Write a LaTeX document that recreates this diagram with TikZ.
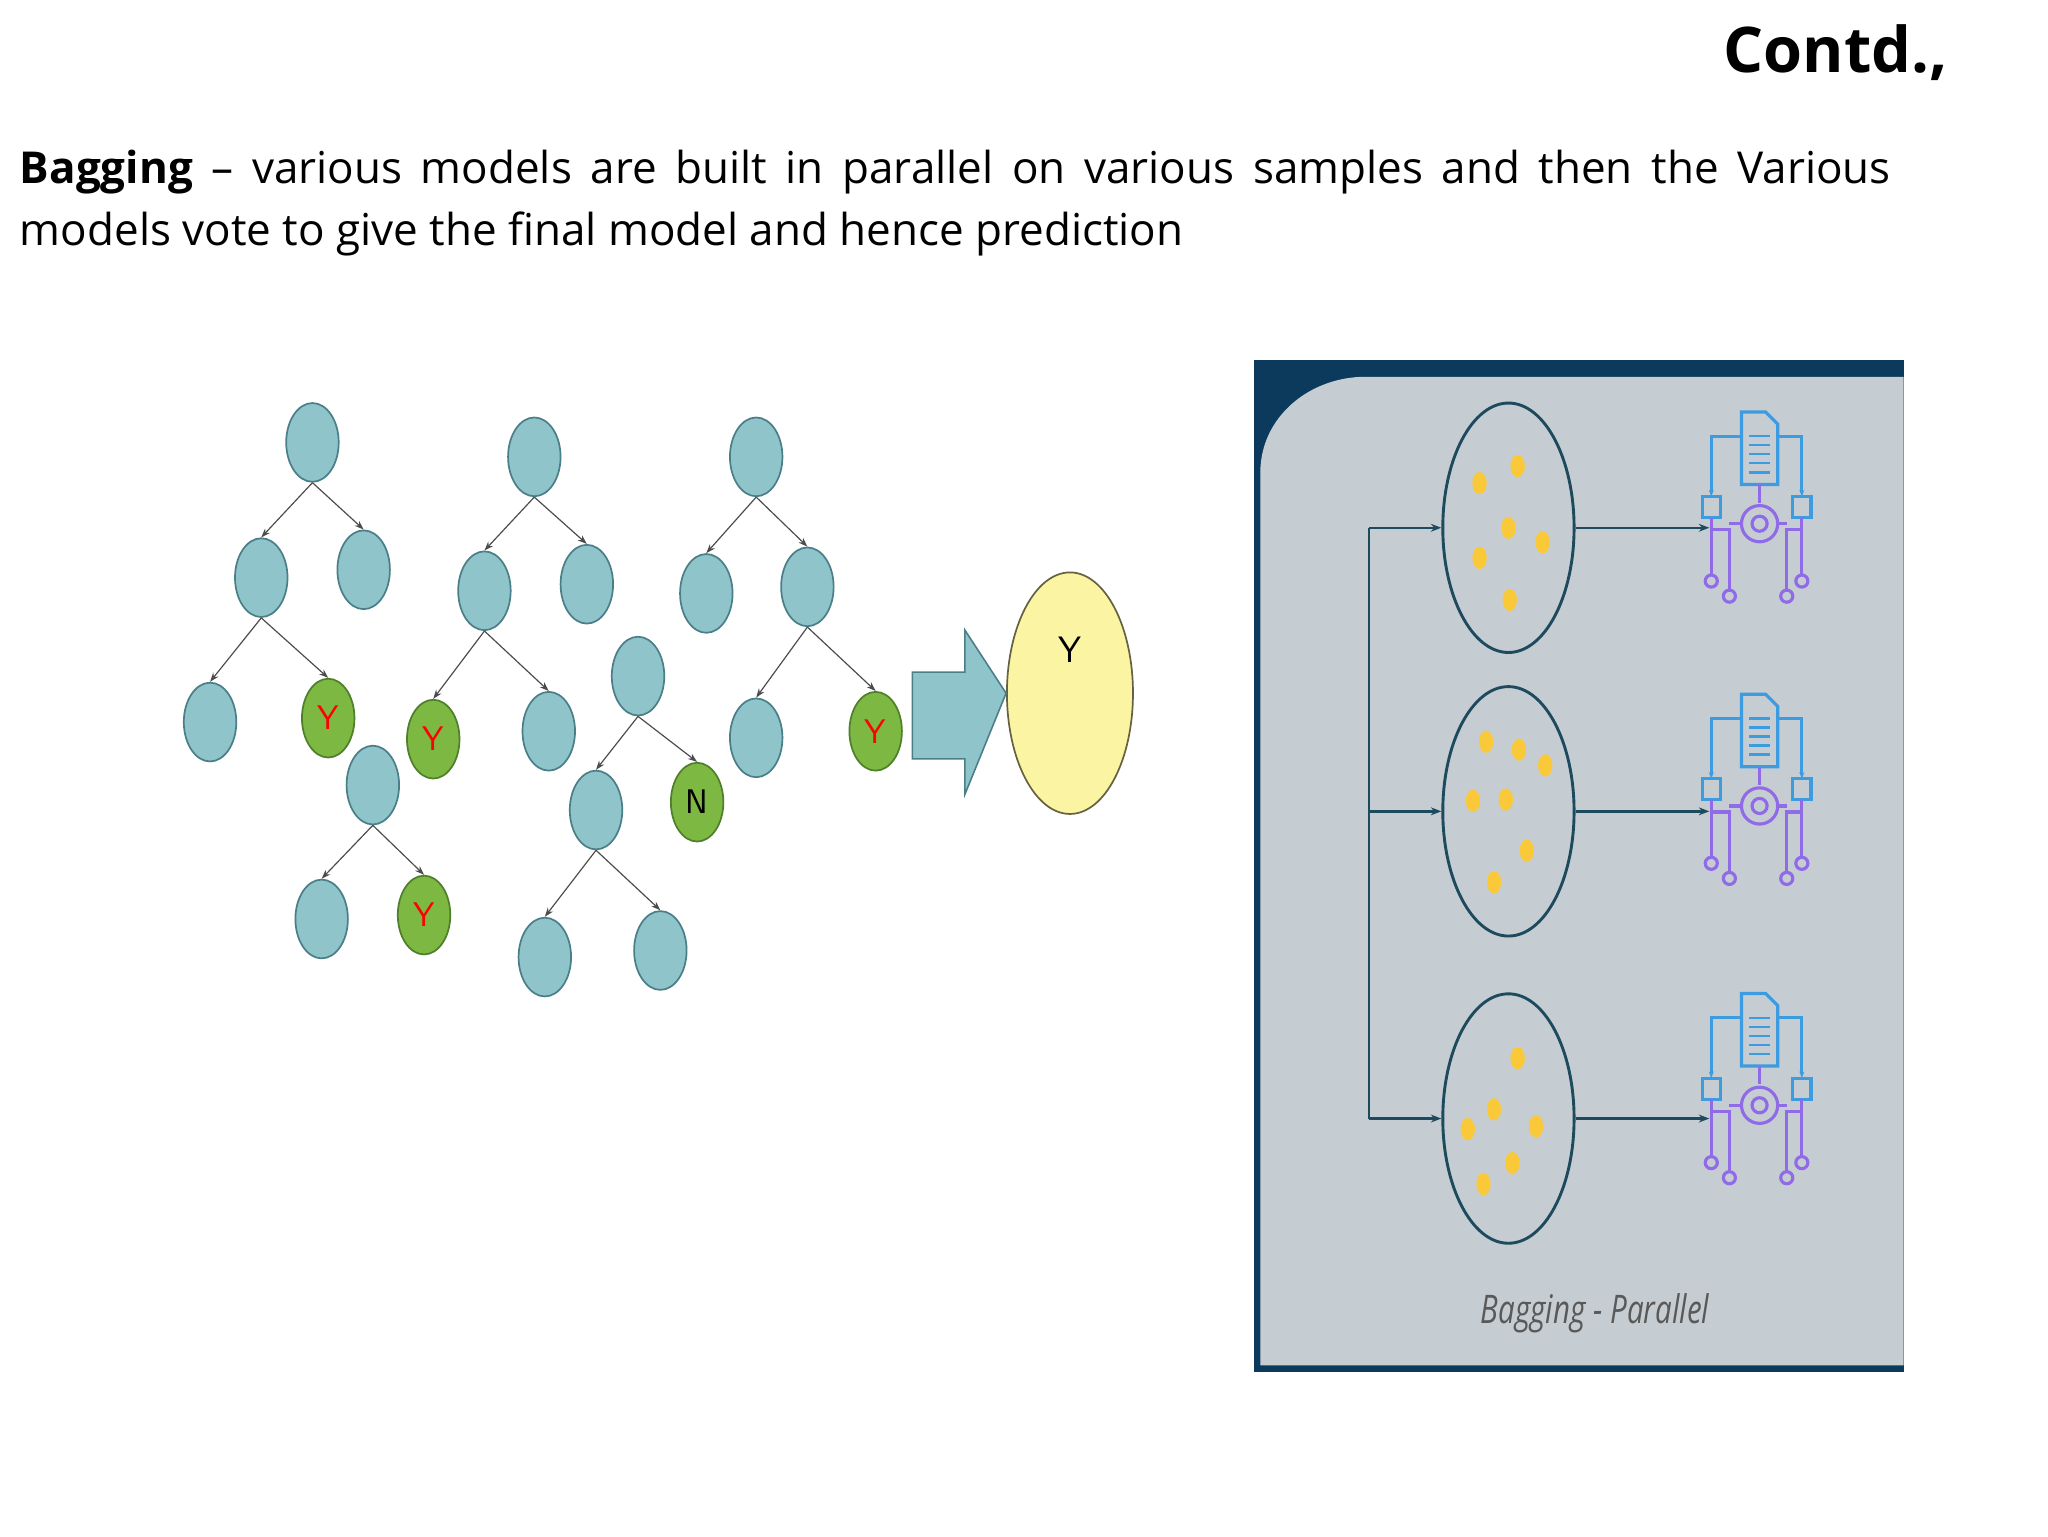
\documentclass[tikz,border=0pt]{standalone}
\usepackage{fontspec}
\setmainfont{Open Sans}
\usetikzlibrary{shapes.geometric,arrows.meta}
\definecolor{tb}{HTML}{8FC4CA}
\definecolor{tbd}{HTML}{4A7F88}
\definecolor{gr}{HTML}{7DB843}
\definecolor{grd}{HTML}{4F7F2A}
\definecolor{yl}{HTML}{FBF5A3}
\definecolor{panel}{HTML}{C6CDD2}
\definecolor{navy}{HTML}{0B3A5D}
\definecolor{ring}{HTML}{1E4A5E}
\definecolor{dot}{HTML}{F9C93A}
\definecolor{icb}{HTML}{3D9BE0}
\definecolor{icp}{HTML}{8F6BE8}
\tikzset{
 tn/.style={ellipse,draw=tbd,fill=tb,line width=1.3pt,minimum width=40pt,minimum height=60pt,inner sep=0pt},
 gn/.style={tn,fill=gr,draw=grd,font=\sffamily\fontsize{26}{26}\selectfont,text=red},
 ed/.style={-{Stealth[length=7pt,width=5pt]},draw=black!70,line width=0.9pt},
 sm/.style={ellipse,draw=ring,line width=2.2pt,minimum width=100pt,minimum height=190pt},
 pa/.style={-{Stealth[length=8pt,width=6pt]},draw=ring,line width=1.8pt},
 yd/.style={ellipse,fill=dot,minimum width=11pt,minimum height=17pt,inner sep=0pt},
 icon/.pic={
  \draw[icb,line width=2.4pt,fill=panel] (-10,-68)--(6,-68)--(14,-60)--(14,-20)--(-10,-20)--cycle;
  \foreach \yy in {-52,-46,-40,-34,-28} \draw[icb,line width=1.8pt] (-5,\yy)--(9,\yy);
  \draw[icb,line width=2.4pt,-{Stealth[length=5pt]}] (-10,-52)--(-30,-52)--(-30,-12);
  \draw[icb,line width=2.4pt,-{Stealth[length=5pt]}] (14,-52)--(30,-52)--(30,-12);
  \draw[icb,line width=2.4pt] (-36,-12) rectangle (-24,2) (24,-12) rectangle (36,2);
  \draw[icp,line width=2.4pt] (2,-20)--(2,-8);
  \draw[icp,line width=2.4pt] (2,6) circle (12pt) (2,6) circle (5pt);
  \draw[icp,line width=2.4pt] (-30,2)--(-30,40) (30,2)--(30,40);
  \draw[icp,line width=2.4pt] (-30,10)--(-18,10)--(-18,50) (30,10)--(20,10)--(20,50);
  \draw[icp,line width=2.4pt] (-30,44) circle (4pt) (30,44) circle (4pt) (-18,54) circle (4pt) (20,54) circle (4pt);
  \draw[icp,line width=2.4pt] (-10,6)--(-18,6) (14,6)--(20,6);
 }
}
\begin{document}
\begin{tikzpicture}[x=1pt,y=-1pt]
\useasboundingbox (0,0) rectangle (1560,1170);
\fill[white] (0,0) rectangle (1560,1170);
\node[anchor=base east,font=\bfseries\fontsize{48}{48}\selectfont] (title) at (1487,55) {Contd.,};
\node[anchor=north west,inner sep=0pt,text width=1425pt,align=justify,font=\fontsize{33.5}{47}\selectfont] (para) at (15,114)
 {\textbf{Bagging} – various models are built in parallel on various samples and then the Various\linebreak models vote to give the final model and hence prediction};
% trees
\node[tn] (a1) at (238,337) {};
\node[tn] (a2) at (199,440) {};
\node[tn] (a3) at (277,434) {};
\node[tn] (a4) at (160,550) {};
\node[gn] (a5) at (250,547) {Y};
\node[tn] (b1) at (284,598) {};
\node[tn] (b2) at (245,700) {};
\node[gn] (b3) at (323,697) {Y};
\node[tn] (c1) at (407,348) {};
\node[tn] (c2) at (369,450) {};
\node[tn] (c3) at (447,445) {};
\node[gn] (c4) at (330,563) {Y};
\node[tn] (c5) at (418,557) {};
\node[tn] (d1) at (486,515) {};
\node[tn] (d2) at (454,617) {};
\node[gn,text=black] (d3) at (531,611) {N};
\node[tn] (d4) at (415,729) {};
\node[tn] (d5) at (503,724) {};
\node[tn] (e1) at (576,348) {};
\node[tn] (e2) at (538,452) {};
\node[tn] (e3) at (615,447) {};
\node[tn] (e4) at (576,562) {};
\node[gn] (e5) at (667,557) {Y};
\foreach \p/\c in {a1/a2,a1/a3,a2/a4,a2/a5,b1/b2,b1/b3,c1/c2,c1/c3,c2/c4,c2/c5,d1/d2,d1/d3,d2/d4,d2/d5,e1/e2,e1/e3,e3/e4,e3/e5}
  \draw[ed] (\p.south) -- (\c.north);
\node[ellipse,draw=black!60!yl,fill=yl,line width=1.3pt,minimum width=96pt,minimum height=184pt,inner sep=0pt] (fin) at (815,528) {};
\node[font=\sffamily\fontsize{28}{28}\selectfont] (fy) at (815,495) {Y};
\coordinate (tip) at (fin.west);
\draw[fill=tb,draw=tbd,line width=1.2pt] (695,512)--(735,512)--(735,480)--(tip)--(735,605)--(735,578)--(695,578)--cycle;
% panel
\fill[navy] (955,274) rectangle (1450,1045);
\fill[panel] (960,1040) -- (960,360) to[out=90,in=180] (1040,287) -- (1450,287) -- (1450,1040) -- cycle;
\node[sm] (s1) at (1149,402) {};
\node[sm] (s2) at (1149,618) {};
\node[sm] (s3) at (1149,852) {};
\coordinate (v1) at (1043,402);
\coordinate (v2) at (1043,618);
\coordinate (v3) at (1043,852);
\draw[ring,line width=1.8pt] (v1)--(v3);
\draw[pa] (v1)--(s1.west);
\draw[pa] (v2)--(s2.west);
\draw[pa] (v3)--(s3.west);
\coordinate (i1) at (1302,402);
\coordinate (i2) at (1302,618);
\coordinate (i3) at (1302,852);
\draw[pa] (s1.east)--(i1);
\draw[pa] (s2.east)--(i2);
\draw[pa] (s3.east)--(i3);
\pic[scale=1.15] at (1338,392) {icon};
\pic[scale=1.15] at (1338,607) {icon};
\pic[scale=1.15] at (1338,835) {icon};
\foreach \x/\y in {1127/368, 1156/355, 1149/402, 1127/425, 1175/413, 1150/457,
  1132/565, 1157/571, 1177/583, 1122/610, 1147/609, 1163/648, 1138/672,
  1156/806, 1138/845, 1118/860, 1170/858, 1152/886, 1130/902}
  \node[yd] at (\x,\y) {};
\node[font=\itshape\fontsize{30}{30}\selectfont,text=black!65,xscale=0.75] (cap) at (1215,1000) {Bagging - Parallel};
\end{tikzpicture}
\end{document}
